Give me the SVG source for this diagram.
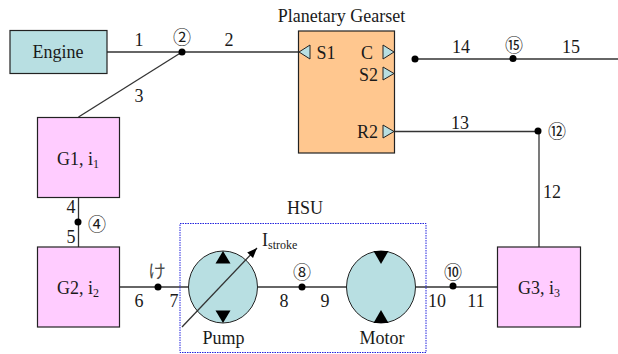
<svg xmlns="http://www.w3.org/2000/svg" width="618" height="354" viewBox="0 0 618 354">
<style>
text{font-family:"Liberation Serif","Noto Sans CJK JP",serif;font-size:18px;fill:#1a1a1a}
.c{text-anchor:middle}
.sub{font-size:12px}
.box{stroke:#222;stroke-width:1.200}
.gear{fill:#ffccff}
.line{stroke:#333;stroke-width:1.300;fill:none}
.dot{fill:#000}
.port{fill:#b8dfe2;stroke:#222;stroke-width:1}
.pump{fill:#b8dfe2;stroke:#222;stroke-width:1}
.cn{font-family:"Noto Sans CJK JP","DejaVu Sans",sans-serif;font-size:18px;text-anchor:middle}
</style>
<defs><marker id="arr" markerWidth="12" markerHeight="10" refX="10" refY="4" orient="auto" markerUnits="userSpaceOnUse"><path d="M0,0L10,4L0,8Z" fill="#000"/></marker></defs>
<g id="connectors">
<path class="line" d="M107 52H298"/>
<path class="line" d="M78.500 117L182 52"/>
<path class="line" d="M78.500 197V247"/>
<path class="line" d="M120 287H188"/>
<path class="line" d="M258 287H347"/>
<path class="line" d="M416 287H498"/>
<path class="line" d="M539 247V132"/>
<path class="line" d="M395 131.500H539"/>
<path class="line" d="M415 59H618"/>
<circle class="dot" cx="182" cy="52" r="3.500"/>
<circle class="dot" cx="78" cy="222" r="3.500"/>
<circle class="dot" cx="158" cy="287" r="3.500"/>
<circle class="dot" cx="302" cy="287" r="3.500"/>
<circle class="dot" cx="453" cy="286" r="3.500"/>
<circle class="dot" cx="538" cy="131" r="3.500"/>
<circle class="dot" cx="415" cy="59" r="3.500"/>
<circle class="dot" cx="513" cy="58.500" r="3.500"/>
</g>
<g id="labels">
<text class="c" x="139" y="46">1</text>
<text class="c" x="229" y="46">2</text>
<text class="c" x="139" y="102">3</text>
<text class="c" x="71" y="213">4</text>
<text class="c" x="71" y="243">5</text>
<text class="c" x="139" y="307">6</text>
<text class="c" x="174" y="307">7</text>
<text class="c" x="284" y="307">8</text>
<text class="c" x="325" y="307">9</text>
<text class="c" x="437" y="307">10</text>
<text class="c" x="476" y="307">11</text>
<text class="c" x="552" y="198">12</text>
<text class="c" x="460" y="129">13</text>
<text class="c" x="461" y="53">14</text>
<text class="c" x="571" y="53">15</text>
<text class="cn" x="182" y="43.500">②</text>
<text class="cn" x="97" y="230.500">④</text>
<text class="cn" x="157" y="277.500" fill-opacity="0.8">け</text>
<text class="cn" x="302" y="278.500">⑧</text>
<text class="cn" x="453" y="278.500">⑩</text>
<text class="cn" x="557" y="137.500">⑫</text>
<text class="cn" x="514" y="51.500">⑮</text>
<text class="c" x="341.500" y="22">Planetary Gearset</text>
<text class="c" x="305" y="214">HSU</text>
</g>
<g id="engine"><rect class="box" x="10" y="30.500" width="97" height="43" fill="#b8dfe2"/><text class="c" x="58" y="58">Engine</text></g>
<g id="g1"><rect class="box gear" x="37.500" y="117.500" width="82" height="80"/><text class="c" x="78" y="165">G1, i<tspan class="sub" dy="3">1</tspan></text></g>
<g id="g2"><rect class="box gear" x="37.500" y="247" width="82" height="80"/><text class="c" x="78" y="294">G2, i<tspan class="sub" dy="3">2</tspan></text></g>
<g id="g3"><rect class="box gear" x="497.500" y="247" width="83" height="80"/><text class="c" x="539" y="294">G3, i<tspan class="sub" dy="3">3</tspan></text></g>
<g id="planetary-gearset">
<rect class="box" x="298.500" y="31" width="96" height="122" fill="#ffc78f"/>
<path class="port" d="M310 45V59L299 52Z"/>
<path class="port" d="M383 45V59L394 52Z"/>
<path class="port" d="M383 67V80L394 73.500Z"/>
<path class="port" d="M383 125V138L394 131.500Z"/>
<text x="316.500" y="59">S1</text>
<text x="361" y="59">C</text>
<text x="359" y="81">S2</text>
<text x="357" y="138">R2</text>
</g>
<g id="hsu"><rect x="180" y="223.500" width="246" height="129" fill="none" stroke="#2222dd" stroke-width="1" stroke-dasharray="1.500 1"/></g>
<g id="pump"><ellipse class="pump" cx="223" cy="287" rx="34.500" ry="36"/><path class="dot" d="M223 251L230.500 263.500H215.500Z"/><path class="dot" d="M223 323L230.500 310.500H215.500Z"/><path class="line" d="M182 327L257 248" marker-end="url(#arr)"/><text x="262" y="246">I<tspan class="sub" dy="3">stroke</tspan></text><text class="c" x="223.500" y="344">Pump</text></g>
<g id="motor"><ellipse class="pump" cx="381" cy="287" rx="34.500" ry="36"/><path class="dot" d="M373.500 251H388.500L381 264Z"/><path class="dot" d="M373.500 323H388.500L381 310Z"/><text class="c" x="382" y="344">Motor</text></g>
</svg>
